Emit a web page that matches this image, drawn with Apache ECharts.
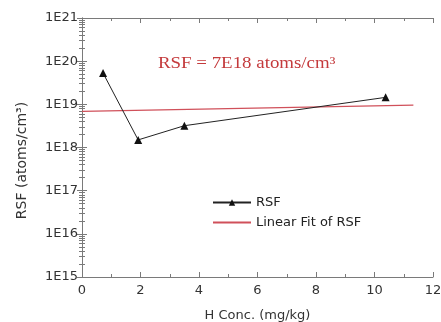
<!DOCTYPE html>
<html><head><meta charset="utf-8">
<script src="https://cdn.jsdelivr.net/npm/echarts@6/dist/echarts.min.js"></script>
<style>html,body{margin:0;padding:0;background:#fff}#c{width:441px;height:322px}</style>
</head><body><div id="c"></div>
<script>
var hConc = [0.72, 1.92, 3.5, 10.38];
var rsfValues = [5.3e19, 1.5e18, 3.2e18, 1.45e19];
var fitX = [0, 11.33];
var fitY = [6.9e18, 9.6e18];
var xTicks = [0, 2, 4, 6, 8, 10, 12];
var yExponents = [15, 16, 17, 18, 19, 20, 21];
var annotation = 'RSF = 7E18 atoms/cm³';

var chart = echarts.init(document.getElementById('c'), null, {renderer: 'canvas'});
var axisColor = '#7a7a7a';
var sans = '"DejaVu Sans", Arial, sans-serif';
var labelFont = {fontFamily: sans, fontSize: 13, color: '#333'};
function xAxisDef(show, pos) {
  return {
    type: 'value', min: xTicks[0], max: xTicks[xTicks.length - 1], interval: 2, position: pos,
    axisLine: {show: true, onZero: false, lineStyle: {color: axisColor, width: 1}},
    axisTick: {show: true, inside: true, length: 5, lineStyle: {color: axisColor}},
    minorTick: {show: true, splitNumber: 2, length: 3, lineStyle: {color: axisColor}},
    axisLabel: show ? Object.assign({margin: 7}, labelFont) : {show: false},
    splitLine: {show: false}
  };
}
function yAxisDef(show, pos) {
  return {
    type: 'log', logBase: 10, min: Math.pow(10, yExponents[0]), max: Math.pow(10, yExponents[yExponents.length - 1]), position: pos,
    axisLine: {show: true, lineStyle: {color: axisColor, width: 1}},
    axisTick: {show: true, inside: true, length: 5, lineStyle: {color: axisColor}},
    minorTick: {show: true, splitNumber: 9, length: 3, lineStyle: {color: axisColor}},
    axisLabel: show ? Object.assign({margin: 4, formatter: function (v) { return '1E' + Math.round(Math.log10(v)); }}, labelFont) : {show: false},
    splitLine: {show: false}
  };
}
var xb = xAxisDef(true, 'bottom');
xb.name = 'H Conc. (mg/kg)';
xb.nameLocation = 'middle';
xb.nameGap = 32;
xb.nameTextStyle = {fontFamily: sans, fontSize: 13, color: '#333'};
var yl = yAxisDef(true, 'left');
yl.name = 'RSF (atoms/cm³)';
yl.nameLocation = 'middle';
yl.nameGap = 53;
yl.nameTextStyle = {fontFamily: sans, fontSize: 14, color: '#333', padding: [0, 26, 0, 0]};

chart.setOption({
  animation: false,
  backgroundColor: '#fff',
  grid: {left: 82, right: 8, top: 18, bottom: 45, containLabel: false, outerBoundsMode: 'none'},
  xAxis: [xb, xAxisDef(false, 'top')],
  yAxis: [yl, yAxisDef(false, 'right')],
  legend: {
    orient: 'vertical', left: 212, top: 196, padding: 0, itemWidth: 38, itemHeight: 8, itemGap: 7,
    textStyle: {fontFamily: sans, fontSize: 13, color: '#222'},
    data: ['RSF', {name: 'Linear Fit of RSF', itemStyle: {opacity: 0}}]
  },
  graphic: [{
    type: 'text', left: 158, top: 56, scaleX: 1.18, originX: 0,
    style: {text: annotation, fill: '#c43a3c', font: '16px "Liberation Serif", "Times New Roman", serif'}
  }],
  series: [
    {
      name: 'RSF', type: 'line', xAxisIndex: 0, yAxisIndex: 0,
      data: hConc.map(function (x, i) { return [x, rsfValues[i]]; }),
      symbol: 'triangle', symbolSize: 8, showSymbol: true,
      lineStyle: {color: '#222', width: 1}, itemStyle: {color: '#111'}, z: 3
    },
    {
      name: 'Linear Fit of RSF', type: 'line', xAxisIndex: 0, yAxisIndex: 0,
      data: fitX.map(function (x, i) { return [x, fitY[i]]; }),
      symbol: 'none', lineStyle: {color: '#d0505a', width: 1.2}, itemStyle: {color: '#d0505a'}, z: 2
    }
  ]
});
</script></body></html>
